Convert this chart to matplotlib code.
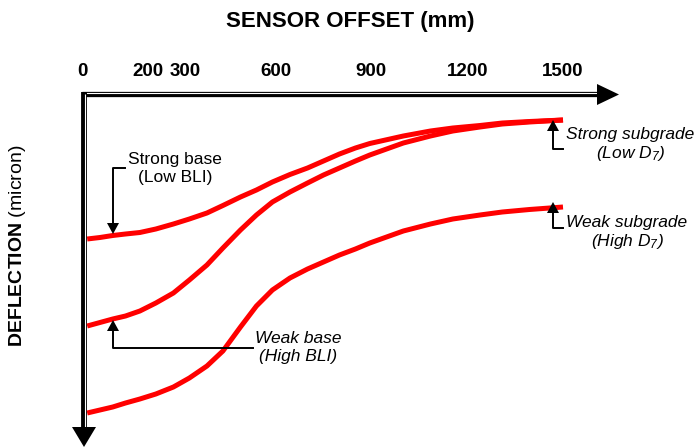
# Sketch of FWD deflection basins: deflection vs sensor offset for strong/weak base and subgrade

# import libraries
import matplotlib
matplotlib.use("Agg")
import matplotlib.pyplot as plt
from matplotlib.patches import Polygon
from matplotlib.transforms import Affine2D, ScaledTranslation, blended_transform_factory


# sensor offsets (mm) where the basins were read
offset_mm = [10, 50, 90, 130, 175, 225, 280, 330, 385, 435, 490, 540, 590,
             645, 700, 750, 800, 850, 895, 1000, 1085, 1155, 1240, 1310, 1395, 1500]

# deflection (relative units, larger = more deflection, drawn downwards)
strong_base_strong_sub = [145, 143.5, 141.5, 140, 138.5, 135, 130, 125, 119, 111.5, 103, 96, 88,
                          80.5, 74, 67, 60, 54, 49.5, 42, 37, 34, 31.5, 29, 27.5, 26]
weak_base_strong_sub = [232, 228.5, 225, 222, 217, 209, 199, 186, 171, 154, 136, 121, 108,
                        98, 89, 81, 74, 67, 61, 49, 42, 37, 33, 30, 28, 26]
weak_base_weak_sub = [319, 316, 313, 309, 305, 300, 293, 284, 272, 257, 233, 212, 196,
                      184, 175, 168, 161, 155, 149, 137, 130, 125, 121, 118, 115.5, 113]

# labels along the offset axis
tick_values = [0, 200, 300, 600, 900, 1200, 1500]


def arrowhead(ax, trans, tip, direction, length, half_width):
    '''Draws a filled black triangle with its tip at "tip", pointing along "direction" (pixel units).'''
    dx, dy = direction
    bx, by = tip[0] - dx * length, tip[1] - dy * length
    # perpendicular to the direction
    px, py = -dy * half_width, dx * half_width
    head = Polygon([tip, (bx + px, by + py), (bx - px, by - py)], closed=True,
                   facecolor="black", edgecolor="none", transform=trans, clip_on=False, zorder=6)
    ax.add_patch(head)


if __name__ == "__main__":
    plt.rcParams["font.family"] = ["Liberation Sans", "DejaVu Sans"]
    plt.rcParams["mathtext.fontset"] = "custom"
    plt.rcParams["mathtext.it"] = "Liberation Sans:italic"
    plt.rcParams["mathtext.rm"] = "Liberation Sans:italic"
    plt.rcParams["mathtext.bf"] = "Liberation Sans:bold"
    plt.rcParams["mathtext.default"] = "it"

    W, H = 696, 448
    fig = plt.figure(figsize=(W / 100, H / 100), dpi=100)

    # data box: 0-1500 mm spans px 84-563, deflection 0-320 spans px 94-414
    ax = fig.add_axes([84 / W, (H - 414) / H, 479 / W, 320 / H])
    ax.set_xlim(0, 1500)
    ax.set_ylim(320, 0)
    ax.axis("off")

    # pixel transform (origin top-left) for the decorations
    pix = Affine2D().scale(1 / W, -1 / H).translate(0, 1) + fig.transFigure

    # the three basins
    for series in [strong_base_strong_sub, weak_base_strong_sub, weak_base_weak_sub]:
        ax.plot(offset_mm, series, color="#ff0000", lw=3.6, solid_capstyle="butt",
                solid_joinstyle="round", clip_on=False, zorder=3)

    # double-lined axes
    ax.plot([82, 600], [94.5, 94.5], color="black", lw=3.8, transform=pix, clip_on=False, solid_capstyle="butt")
    ax.plot([86, 600], [93.3, 93.3], color="white", lw=0.8, transform=pix, clip_on=False, solid_capstyle="butt")
    ax.plot([84, 84], [92, 430], color="black", lw=4.2, transform=pix, clip_on=False, solid_capstyle="butt")
    ax.plot([85.2, 85.2], [93.8, 430], color="white", lw=0.8, transform=pix, clip_on=False, solid_capstyle="butt")
    arrowhead(ax, pix, (619, 94.5), (1, 0), 22, 10.5)
    arrowhead(ax, pix, (84, 447), (0, 1), 20, 12)

    # axis titles
    fig.text(350 / W, 1 - 22 / H, "SENSOR OFFSET (mm)", ha="center", va="center", fontsize=16, fontweight="bold")
    fig.text(18 / W, 1 - 246 / H, r"$\mathbf{DEFLECTION}$ (micron)", ha="center", va="center",
             rotation=90, fontsize=14)

    # offset labels on top of the horizontal axis ("200" and "300" pushed apart a little)
    top = blended_transform_factory(ax.transData, pix)
    nudge = {0: -2, 200: 0, 300: 5}
    for v in tick_values:
        shift = ScaledTranslation(nudge.get(v, 0) / 100, 0, fig.dpi_scale_trans)
        ax.text(v, 72, str(v), transform=top + shift, ha="center", va="center", fontsize=13.5, fontweight="bold")

    # leader lines and their arrows
    leaders = [
        ([125, 113, 113], [168, 168, 224], (113, 234), (0, 1)),
        ([253, 113, 113], [348, 348, 331], (113, 320), (0, -1)),
        ([563, 553, 553], [149, 149, 131], (553, 120), (0, -1)),
        ([563, 553, 553], [228, 228, 212], (553, 202), (0, -1)),
    ]
    for xs, ys, tip, d in leaders:
        ax.plot(xs, ys, color="black", lw=1.4, transform=pix, clip_on=False, zorder=5)
        arrowhead(ax, pix, tip, d, 11, 6)

    # annotation texts
    ax.text(175, 168.5, "Strong base\n(Low BLI)", transform=pix, ha="center", va="center", fontsize=12.5)
    ax.text(298, 347.5, "Weak base\n(High BLI)", transform=pix, ha="center", va="center",
            fontsize=12.5, style="italic")
    ax.text(630, 145, "Strong subgrade\n" + r"(Low $D_7$)", transform=pix, ha="center", va="center",
            fontsize=12.5, style="italic")
    ax.text(627, 233, "Weak subgrade\n" + r"(High $D_7$)", transform=pix, ha="center", va="center",
            fontsize=12.5, style="italic")

    fig.savefig("out.png", dpi=100)
